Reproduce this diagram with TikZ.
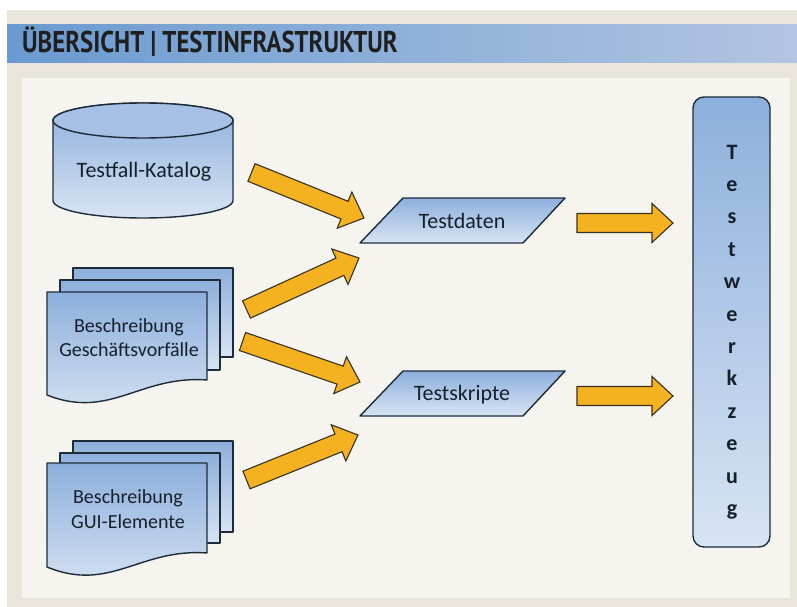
\documentclass[tikz,border=0pt]{standalone}
\usepackage{fontspec}
\setmainfont{Carlito}
\newfontfamily\headfont{PT Sans}
\usetikzlibrary{calc}
\definecolor{beige}{HTML}{E9E5DB}
\definecolor{panel}{HTML}{F6F4EF}
\definecolor{hdL}{HTML}{6A9AD0}
\definecolor{hdR}{HTML}{B2C5E2}
\definecolor{shTop}{HTML}{8DAFDC}
\definecolor{shBot}{HTML}{D8E4F4}
\definecolor{ellTop}{HTML}{A6C0E6}
\definecolor{edge}{HTML}{1E2C3A}
\definecolor{arrfill}{HTML}{F4B120}
\definecolor{arredge}{HTML}{3A3222}
\definecolor{txt}{HTML}{15202B}
\tikzset{
 shapeline/.style={draw=edge, line width=1.4pt, line join=round},
 blueshade/.style={shapeline, top color=shTop, bottom color=shBot},
 fatarr/.style={draw=arredge, line width=1.1pt, fill=arrfill, line join=miter},
 lbl/.style={text=txt, font=\fontsize{22}{24}\selectfont, inner sep=0pt, anchor=base},
 doclbl/.style={lbl, font=\fontsize{20}{24}\selectfont},
 twlbl/.style={text=txt, inner sep=0pt, anchor=base, font=\fontsize{22}{22}\selectfont\bfseries},
}
\newcommand\fatarrow[2]{%
  \coordinate (hb) at ($(#2)!21pt!(#1)$);
  \draw[fatarr] ($(#1)!9.5pt!90:(#2)$) -- ($(hb)!9.5pt!-90:(#1)$) -- ($(hb)!19.5pt!-90:(#1)$) -- (#2)
    -- ($(hb)!19.5pt!90:(#1)$) -- ($(hb)!9.5pt!90:(#1)$) -- ($(#1)!9.5pt!-90:(#2)$) -- cycle;
}
\begin{document}
\begin{tikzpicture}[x=1pt,y=-1pt]
\useasboundingbox (0,0) rectangle (797,607);
\fill[white] (0,0) rectangle (797,607);
\fill[beige] (7,10) rectangle (797,607);
\shade[left color=hdL, right color=hdR] (7,25) rectangle (797,63);
\node[anchor=base west, inner sep=0pt, text=black!88] (title) at (22,53)
  {\scalebox{0.825}[1]{\headfont\bfseries\fontsize{30}{32}\selectfont ÜBERSICHT | TESTINFRASTRUKTUR}};
\fill[panel] (22,78) rectangle (790,598);

% cylinder
\path[blueshade] (53,120.5) -- (53,200.5) arc[start angle=180, end angle=0, x radius=90, y radius=17.5]
  -- (233,120.5) arc[start angle=0, end angle=-180, x radius=90, y radius=17.5] -- cycle;
\path[shapeline, fill=ellTop] (143,120.5) ellipse[x radius=90, y radius=17.5];
\node[lbl] (cat) at (144,177) {Testfall-Katalog};

% document stack 1
\path[blueshade] (73,268) rectangle (233,357);
\path[blueshade] (60,280) rectangle (220,370);
\path[blueshade] (47,292) -- (207,292) -- (207,380) .. controls (140,375) and (110,420) .. (47,395) -- cycle;
\node[doclbl] (gv1) at (129,332) {Beschreibung};
\node[doclbl] (gv2) at (129,356) {Geschäftsvorfälle};

% document stack 2
\begin{scope}[shift={(0,171)}]
\path[blueshade] (73,270) rectangle (233,361);
\path[blueshade] (60,282) rectangle (220,372);
\path[blueshade] (47,292) -- (207,292) -- (207,382) .. controls (140,377) and (110,422) .. (47,396) -- cycle;
\node[doclbl] (gui1) at (128,332) {Beschreibung};
\node[doclbl] (gui2) at (128,357) {GUI-Elemente};
\end{scope}

% parallelograms
\path[blueshade] (403,198) -- (565,198) -- (523,243) -- (360,243) -- cycle;
\node[lbl] (td) at (462,228) {Testdaten};
\path[blueshade] (403,371) -- (565,371) -- (523,416) -- (360,416) -- cycle;
\node[lbl] (ts) at (462,400) {Testskripte};

% Testwerkzeug
\node[blueshade, rounded corners=11pt, minimum width=77pt, minimum height=450pt, inner sep=0pt] (tw) at (731.5,322) {};
\foreach \c [count=\i from 0] in {T,e,s,t,w,e,r,k,z,e,u,g}
  \node[twlbl] (twl\i) at (732,{159+\i*32.4}) {\c};

% arrow end points
\coordinate (a1s) at (251.5,172.5); \coordinate (a1e) at (364,218);
\coordinate (a2s) at (246.5,309.5); \coordinate (a2e) at (359,258);
\coordinate (a3s) at (242.5,341.5); \coordinate (a3e) at (360,382);
\coordinate (a4s) at (246.5,480);   \coordinate (a4e) at (358,435);
\coordinate (a5s) at (577,223);     \coordinate (a5e) at (673,223);
\coordinate (a6s) at (577,396);     \coordinate (a6e) at (673,396);
\fatarrow{a1s}{a1e}
\fatarrow{a2s}{a2e}
\fatarrow{a3s}{a3e}
\fatarrow{a4s}{a4e}
\fatarrow{a5s}{a5e}
\fatarrow{a6s}{a6e}
\end{tikzpicture}
\end{document}
